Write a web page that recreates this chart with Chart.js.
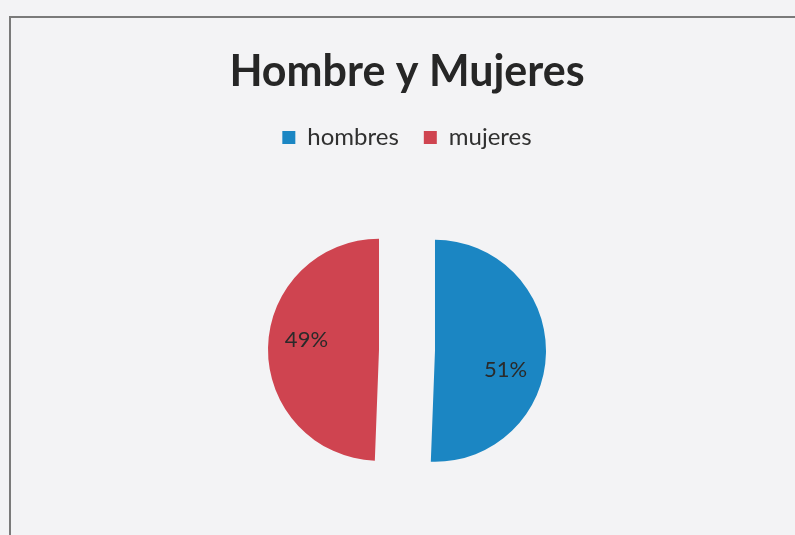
<!DOCTYPE html>
<html>
<head>
<meta charset="utf-8">
<script src="https://cdn.jsdelivr.net/npm/chart.js@4/dist/chart.umd.min.js"></script>
<style>
  html, body { margin: 0; padding: 0; background: #f3f3f5; overflow: hidden; }
  .frame {
    position: absolute; left: 9px; top: 16px; width: 800px; height: 540px;
    border-left: 2px solid #7a7a7a; border-top: 2px solid #7a7a7a;
  }
  .wrap { position: absolute; left: 12px; top: 0; width: 790px; height: 548px; }
</style>
</head>
<body>
<div class="frame"></div>
<div class="wrap"><canvas id="pie"></canvas></div>
<script>
// data (shares in %, labels shown rounded)
const categories = ["hombres", "mujeres"];
const values = [50.6, 49.4];
const colors = ["#1b86c3", "#cf4450"];

// pull every slice out along its middle angle, keeping its shape (like Excel's explode)
const explode = {
  id: "explode",
  afterDatasetUpdate(chart, args, opts) {
    chart.getDatasetMeta(args.index).data.forEach((arc) => {
      const mid = (arc.startAngle + arc.endAngle) / 2;
      arc.x += Math.cos(mid) * opts.distance;
      arc.y += Math.sin(mid) * opts.distance;
    });
  }
};

// percentage labels drawn inside each slice
const sliceLabels = {
  id: "sliceLabels",
  afterDatasetsDraw(chart, args, opts) {
    const ctx = chart.ctx;
    const meta = chart.getDatasetMeta(0);
    const total = values.reduce((a, b) => a + b, 0);
    ctx.save();
    ctx.font = opts.font;
    ctx.fillStyle = opts.color;
    ctx.textAlign = "center";
    ctx.textBaseline = "middle";
    meta.data.forEach((arc, i) => {
      const mid = (arc.startAngle + arc.endAngle) / 2;
      const a = mid + opts.shift[i];
      const r = arc.outerRadius * opts.at;
      const txt = Math.round(values[i] / total * 100) + "%";
      ctx.fillText(txt, arc.x + Math.cos(a) * r, arc.y + Math.sin(a) * r);
    });
    ctx.restore();
  }
};

new Chart(document.getElementById("pie"), {
  type: "pie",
  data: {
    labels: categories,
    datasets: [{
      data: values,
      backgroundColor: colors,
      borderWidth: 0,
      radius: 111
    }]
  },
  options: {
    responsive: true,
    maintainAspectRatio: false,
    animation: false,
    events: [],
    layout: { padding: { top: 22, bottom: 7 } },
    plugins: {
      title: {
        display: true,
        text: "Hombre y Mujeres",
        color: "#262626",
        font: { family: "Lato", size: 43, weight: "bold" },
        padding: { top: 24, bottom: 3 }
      },
      legend: {
        position: "top",
        labels: {
          color: "#303030",
          font: { family: "Lato", size: 24 },
          boxWidth: 13,
          boxHeight: 13,
          padding: 25
        }
      },
      tooltip: { enabled: false },
      explode: { distance: 28 },
      sliceLabels: {
        font: "22px Lato",
        color: "#2a2a2a",
        at: 0.66,
        shift: [0.25, 0.12]
      }
    }
  },
  plugins: [explode, sliceLabels]
});
</script>
</body>
</html>
